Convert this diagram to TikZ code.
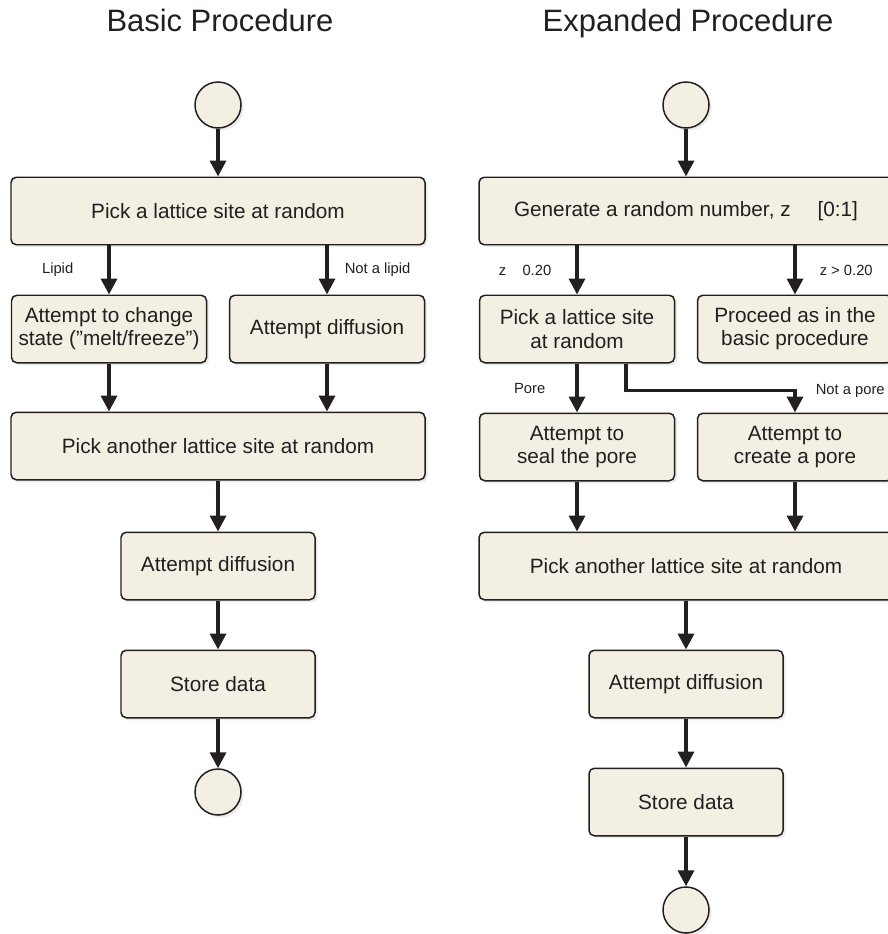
\documentclass[tikz,border=0pt]{standalone}
\usepackage{fontspec}
\setmainfont{Liberation Sans}
\usetikzlibrary{positioning,arrows.meta,shadows}

\definecolor{boxfill}{HTML}{F3EFE2}
\definecolor{inkline}{HTML}{231F20}

\begin{document}
\begin{tikzpicture}[node distance=2.36cm,on grid,
    every node/.style={font=\fontsize{11.8}{13.2}\selectfont, text=inkline},
    box/.style={draw=inkline, line width=0.85pt, fill=boxfill, rounded corners=3pt,
      align=center, minimum height=1.35cm, inner sep=0pt,
      drop shadow={opacity=0.15, shadow xshift=1.5pt, shadow yshift=-1.5pt}},
    wide/.style={box, minimum width=8.28cm},
    half/.style={box, minimum width=3.9cm},
    endpt/.style={circle, draw=inkline, line width=0.85pt, fill=boxfill, minimum size=0.92cm,
      inner sep=0pt, drop shadow={opacity=0.15, shadow xshift=1.5pt, shadow yshift=-1.5pt}},
    flow/.style={draw=inkline, line width=2pt, -{Triangle[width=9pt,length=9pt]}},
    lbl/.style={font=\fontsize{8.4}{10}\selectfont, inner sep=0pt},
    title/.style={font=\fontsize{17.6}{20}\selectfont, anchor=base}]
  \useasboundingbox (0,0) rectangle (17.74,-18.68);

  % titles
  \node[title] (tbasic) at (4.40,-0.64) {Basic Procedure};
  \node[title] (texp)   at (13.76,-0.64) {Expanded Procedure};

  % basic procedure
  \node[endpt] (lstart) at (4.36,-2.10) {};
  \node[wide] (lpick) [below=2.12cm of lstart] {Pick a lattice site at random};
  \node[half] (llipid) [below left=2.36cm and 2.18cm of lpick] {Attempt to change\\state (”melt/freeze”)};
  \node[half] (lother) [below right=2.36cm and 2.18cm of lpick] {Attempt diffusion};
  \node[wide] (lanother) [below=4.70cm of lpick] {Pick another lattice site at random};
  \node[box, minimum width=3.88cm] (ldiff) [below=2.40cm of lanother] {Attempt diffusion};
  \node[box, minimum width=3.88cm] (lstore) [below of=ldiff] {Store data};
  \node[endpt] (lend) [below=2.16cm of lstore] {};

  \draw[flow] (lstart) -- (lpick);
  \draw[flow] (llipid |- lpick.south) -- node[lbl, left=0.68cm] {Lipid} (llipid.north);
  \draw[flow] (lother |- lpick.south) -- node[lbl, right=0.32cm] {Not a lipid} (lother.north);
  \draw[flow] (llipid.south) -- (llipid |- lanother.north);
  \draw[flow] (lother.south) -- (lother |- lanother.north);
  \draw[flow] (lanother) -- (ldiff);
  \draw[flow] (ldiff) -- (lstore);
  \draw[flow] (lstore) -- (lend);

  % expanded procedure
  \node[endpt] (rstart) at (13.72,-2.10) {};
  \node[wide] (rgen) [below=2.12cm of rstart] {Generate a random number, z\hspace{1.3em}[0:1]};
  \node[half] (rpick) [below left=2.36cm and 2.18cm of rgen] {Pick a lattice site\\at random};
  \node[half] (rproceed) [below right=2.36cm and 2.18cm of rgen] {Proceed as in the\\basic procedure};
  \node[half] (rseal) [below of=rpick] {Attempt to\\seal the pore};
  \node[half] (rcreate) [below of=rproceed] {Attempt to\\create a pore};
  \node[wide] (ranother) [below=7.10cm of rgen] {Pick another lattice site at random};
  \node[box, minimum width=3.88cm] (rdiff) [below of=ranother] {Attempt diffusion};
  \node[box, minimum width=3.88cm] (rstore) [below of=rdiff] {Store data};
  \node[endpt] (rend) [below=2.16cm of rstore] {};

  \draw[flow] (rstart) -- (rgen);
  \draw[flow] (rpick |- rgen.south) -- node[lbl, left=0.48cm] {z\hspace{1.1em}0.20} (rpick.north);
  \draw[flow] (rproceed |- rgen.south) -- node[lbl, right=0.46cm] {z > 0.20} (rproceed.north);
  \draw[flow] (rpick.south) -- node[lbl, left=0.60cm] {Pore} (rseal.north);
  \draw[flow] ([xshift=0.98cm]rpick.south) -- ++(0,-0.54)
    -| node[lbl, pos=0.5, right=0.38cm] {Not a pore} (rcreate.north);
  \draw[flow] (rseal.south) -- (rseal |- ranother.north);
  \draw[flow] (rcreate.south) -- (rcreate |- ranother.north);
  \draw[flow] (ranother) -- (rdiff);
  \draw[flow] (rdiff) -- (rstore);
  \draw[flow] (rstore) -- (rend);
\end{tikzpicture}
\end{document}
